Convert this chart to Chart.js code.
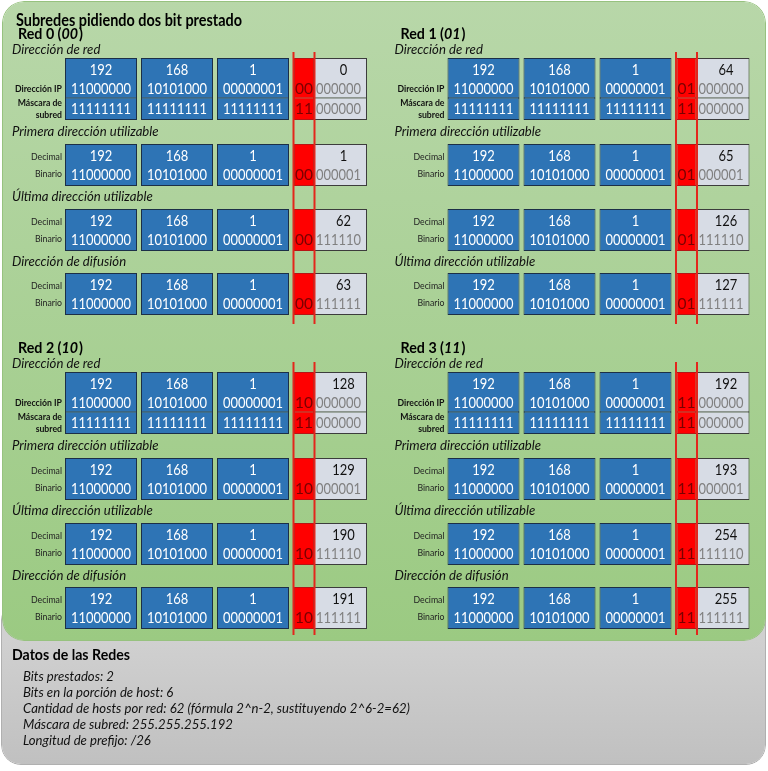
<!DOCTYPE html>
<html lang="es">
<head>
<meta charset="utf-8">
<title>Subredes pidiendo dos bit prestado</title>
<script src="https://cdn.jsdelivr.net/npm/chart.js@4.4.1/dist/chart.umd.min.js"></script>
<style>
  html, body { margin: 0; padding: 0; background: #fff; }
  #wrap { position: relative; width: 768px; height: 771px; }
</style>
</head>
<body>
<div id="wrap"><canvas id="subnetChart"></canvas></div>
<script>
// values
const baseOctets = [192, 168, 1];
const maskOctets = [255, 255, 255];
const subnetBits = ['00', '01', '10', '11'];
const maskBits = '11';
const maskHostBits = '000000';
const hostBits = ['000000', '000001', '111110', '111111'];
const hostDecimal = [
  [0, 1, 62, 63],
  [64, 65, 126, 127],
  [128, 129, 190, 191],
  [192, 193, 254, 255]
];
const networkNames = ['Red 0', 'Red 1', 'Red 2', 'Red 3'];
const rowTitles = [
  ['Dirección de red', 'Primera dirección utilizable', 'Última dirección utilizable', 'Dirección de difusión'],
  ['Dirección de red', 'Primera dirección utilizable', '', 'Última dirección utilizable'],
  ['Dirección de red', 'Primera dirección utilizable', 'Última dirección utilizable', 'Dirección de difusión'],
  ['Dirección de red', 'Primera dirección utilizable', 'Última dirección utilizable', 'Dirección de difusión']
];
const mainTitle = 'Subredes pidiendo dos bit prestado';
const summaryTitle = 'Datos de las Redes';
const summaryLines = [
  'Bits prestados: 2',
  'Bits en la porción de host: 6',
  'Cantidad de hosts por red: 62 (fórmula 2^n-2, sustituyendo 2^6-2=62)',
  'Máscara de subred: 255.255.255.192',
  'Longitud de prefijo: /26'
];

// layout (page pixels, used as axis values)
const W = 768, H = 771;
const quadX = [0, 382.5, 0, 382.5];
const quadY = [0, 0, 314, 314];
const octetX = [101, 177, 253];
const bitsX = 304, hostX = 340.5;
const guideX = [293.5, 314.5];
const guideY = [[52, 324], [52, 324], [362, 635], [362, 635]];
const rowTop = [58, 144, 209, 273];
const rowH = 42, ipBottom = 98, maskBottom = 120;
const titleY = [50, 132, 197, 262];
const summaryY = [677, 693, 709, 725, 741];
const FAMILY = 'Lato, "Open Sans", sans-serif';

const toBin = n => n.toString(2).padStart(8, '0');

const blueBars = [], hostBars = [], bitBars = [], guideBars = [];
for (let q = 0; q < 4; q++) {
  const ox = quadX[q], oy = quadY[q];
  rowTop.forEach((top, r) => {
    const spans = r === 0 ? [[top, ipBottom + 0.5], [ipBottom - 0.5, maskBottom]] : [[top, top + rowH]];
    spans.forEach(([a, b]) => {
      octetX.forEach(cx => blueBars.push({x: ox + cx, y: [oy + a, oy + b]}));
      bitBars.push({x: ox + bitsX, y: [oy + a, oy + b]});
      hostBars.push({x: ox + hostX, y: [oy + a, oy + b]});
    });
  });
  guideX.forEach(gx => guideBars.push({x: ox + gx, y: guideY[q]}));
}

function vGradient(c, y0, y1, c0, c1, fallback) {
  const {chart} = c;
  if (!chart.chartArea) return fallback;
  const g = chart.ctx.createLinearGradient(0, chart.scales.y.getPixelForValue(y0), 0, chart.scales.y.getPixelForValue(y1));
  g.addColorStop(0, c0);
  g.addColorStop(1, c1);
  return g;
}

// font of given height, squeezed sideways so that `sample` is `targetW` wide (Calibri-like)
function makeFont(ctx, style, size, sample, targetW) {
  const font = style + ' ' + size + 'px ' + FAMILY;
  ctx.font = font;
  return {font, sx: Math.min(1, targetW / ctx.measureText(sample).width)};
}

function put(ctx, str, x, y, f, color, align) {
  ctx.save();
  ctx.font = f.font;
  ctx.fillStyle = color;
  ctx.textAlign = align;
  ctx.translate(x, y);
  ctx.scale(f.sx, 1);
  ctx.fillText(str, 0, 0);
  ctx.restore();
  ctx.font = f.font;
  return ctx.measureText(str).width * f.sx;
}

const diagramText = {
  id: 'diagramText',
  afterDatasetsDraw(chart) {
    const {ctx, scales} = chart;
    const X = v => scales.x.getPixelForValue(v);
    const Y = v => scales.y.getPixelForValue(v);
    ctx.save();
    ctx.textBaseline = 'middle';

    const fTitle = makeFont(ctx, 'bold', 16.5, mainTitle, 226);
    const fNet = makeFont(ctx, 'bold', 15, 'Red 0 (00)', 64);
    const fNetIt = {font: fNet.font.replace('bold', 'italic bold'), sx: fNet.sx};
    const fHeading = makeFont(ctx, 'bold', 16, summaryTitle, 118);
    const fItalic = makeFont(ctx, 'italic', 13.5, summaryLines[2], 387);
    const fDigits = makeFont(ctx, '', 15, '11000000', 60);
    const fBits = makeFont(ctx, '', 15.5, '00', 19);
    const fLabelBold = makeFont(ctx, 'bold', 9.5, 'Dirección IP', 47);
    const fLabel = makeFont(ctx, '', 10, 'Decimal', 31);
    const bitColor = '#7a0000';

    put(ctx, mainTitle, X(16), Y(21), fTitle, '#000', 'left');

    for (let q = 0; q < 4; q++) {
      const ox = quadX[q], oy = quadY[q];
      let xx = X(ox + 18);
      const pre = networkNames[q] + ' (';
      xx += put(ctx, pre, xx, Y(oy + 34), fNet, '#000', 'left');
      xx += put(ctx, subnetBits[q], xx, Y(oy + 34), fNetIt, '#000', 'left') + 1;
      put(ctx, ')', xx, Y(oy + 34), fNet, '#000', 'left');

      rowTitles[q].forEach((t, r) => put(ctx, t, X(ox + 12), Y(oy + titleY[r]), fItalic, '#111', 'left'));

      put(ctx, 'Dirección IP', X(ox + 62), Y(oy + 89), fLabelBold, '#111', 'right');
      put(ctx, 'Máscara de', X(ox + 62), Y(oy + 103), fLabelBold, '#111', 'right');
      put(ctx, 'subred', X(ox + 62), Y(oy + 115), fLabelBold, '#111', 'right');

      rowTop.forEach((top, r) => {
        const t = oy + top;
        if (r > 0) {
          put(ctx, 'Decimal', X(ox + 62), Y(t + 13), fLabel, '#222', 'right');
          put(ctx, 'Binario', X(ox + 62), Y(t + 30), fLabel, '#222', 'right');
        }
        baseOctets.forEach((o, k) => {
          put(ctx, String(o), X(ox + octetX[k]), Y(t + 12), fDigits, '#fff', 'center');
          put(ctx, toBin(o), X(ox + octetX[k]), Y(t + 31), fDigits, '#fff', 'center');
        });
        put(ctx, subnetBits[q], X(ox + bitsX), Y(t + 31), fBits, bitColor, 'center');
        put(ctx, String(hostDecimal[q][r]), X(ox + hostX + 3), Y(t + 12), fDigits, '#111', 'center');
        put(ctx, hostBits[r], X(ox + hostX - 2), Y(t + 31), fDigits, '#808080', 'center');
      });

      maskOctets.forEach((m, k) => put(ctx, toBin(m), X(ox + octetX[k]), Y(oy + 109), fDigits, '#fff', 'center'));
      put(ctx, maskBits, X(ox + bitsX), Y(oy + 109), fBits, bitColor, 'center');
      put(ctx, maskHostBits, X(ox + hostX - 2), Y(oy + 109), fDigits, '#808080', 'center');
    }

    put(ctx, summaryTitle, X(12), Y(655), fHeading, '#000', 'left');
    summaryLines.forEach((s, i) => put(ctx, s, X(23), Y(summaryY[i]), fItalic, '#111', 'left'));
    ctx.restore();
  }
};

const ctx = document.getElementById('subnetChart').getContext('2d');
const subnetChart = new Chart(ctx, {
  type: 'bar',
  data: {
    datasets: [{
      label: 'Datos de las Redes',
      data: [{x: 383.5, y: [600, 765]}],
      barThickness: 765,
      backgroundColor: c => vGradient(c, 640, 765, '#d0d0d0', '#c0c0c0', '#c8c8c8'),
      borderColor: '#b0b0b0',
      borderWidth: 1,
      borderRadius: 20,
      order: 6
    }, {
      label: 'Subredes',
      data: [{x: 384, y: [1, 641]}],
      barThickness: 764,
      backgroundColor: c => vGradient(c, 0, 641, '#b8d7a9', '#9bca82', '#a9d08e'),
      borderColor: '#97c27f',
      borderWidth: 1,
      borderRadius: 22,
      order: 5
    }, {
      label: 'Octetos',
      data: blueBars,
      barThickness: 72,
      backgroundColor: '#2e74b5',
      borderColor: '#1c2f47',
      borderWidth: 1,
      order: 3
    }, {
      label: 'Porción de host',
      data: hostBars,
      barThickness: 53,
      backgroundColor: '#d7dce5',
      borderColor: '#3c3c3c',
      borderWidth: 1,
      order: 3
    }, {
      label: 'Bits prestados',
      data: bitBars,
      barThickness: 20,
      backgroundColor: '#ff0000',
      borderColor: '#b81414',
      borderWidth: 1,
      order: 2
    }, {
      label: 'Guías',
      data: guideBars,
      barThickness: 2,
      backgroundColor: '#e3261c',
      order: 1
    }]
  },
  options: {
    responsive: true,
    maintainAspectRatio: false,
    animation: false,
    events: [],
    layout: { padding: 0 },
    datasets: {
      bar: { grouped: false, borderSkipped: false, inflateAmount: 0 }
    },
    plugins: {
      legend: { display: false },
      tooltip: { enabled: false }
    },
    scales: {
      x: { type: 'linear', min: 0, max: W, display: false, offset: false, grid: { offset: false } },
      y: { type: 'linear', min: 0, max: H, reverse: true, display: false }
    }
  },
  plugins: [diagramText]
});
</script>
</body>
</html>
